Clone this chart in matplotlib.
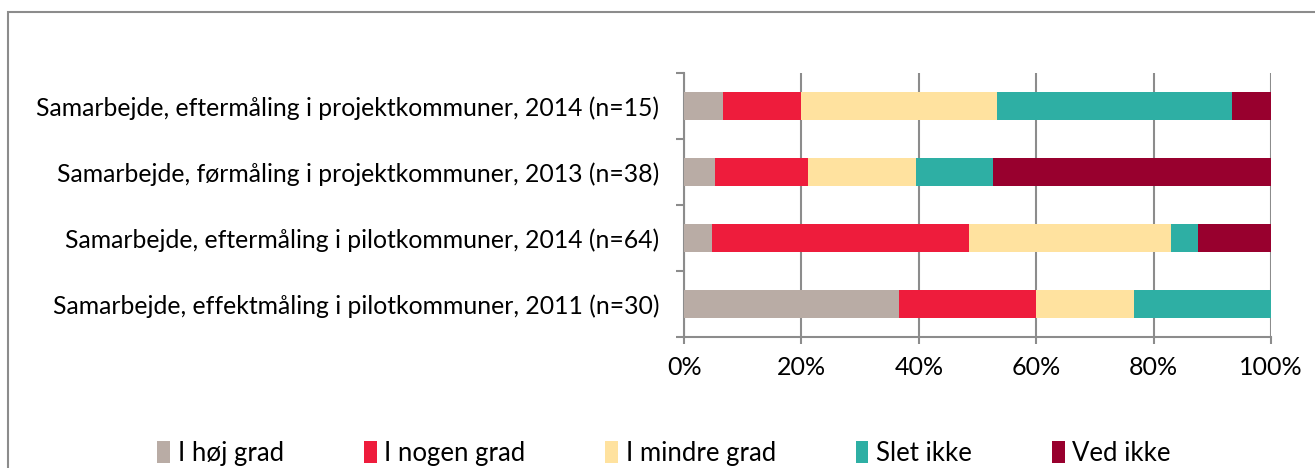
import numpy as np
import matplotlib
matplotlib.use("Agg")
import matplotlib.pyplot as plt
from matplotlib.patches import Rectangle

plt.rcParams["font.family"] = ["Lato", "DejaVu Sans"]

categories = [
    "Samarbejde, effektmåling i pilotkommuner, 2011 (n=30)",
    "Samarbejde, eftermåling i pilotkommuner, 2014 (n=64)",
    "Samarbejde, førmåling i projektkommuner, 2013 (n=38)",
    "Samarbejde, eftermåling i projektkommuner, 2014 (n=15)",
]
series_names = ["I høj grad", "I nogen grad", "I mindre grad", "Slet ikke", "Ved ikke"]

# percentages, bottom category first
hoej_grad = [36.7, 4.7, 5.3, 6.7]
nogen_grad = [23.3, 43.8, 15.8, 13.3]
mindre_grad = [16.7, 34.4, 18.4, 33.3]
slet_ikke = [23.3, 4.7, 13.2, 40.0]
ved_ikke = [0.0, 12.5, 47.4, 6.7]

colors = ["#B9ACA5", "#EE1C3C", "#FFE29F", "#2EAFA4", "#98002E"]

fig = plt.figure(figsize=(13.15, 4.68), dpi=100)
ax = fig.add_axes([0.5202, 0.2799, 0.4464, 0.5641])

# frame around the chart area
fig.patches.append(Rectangle((8 / 1315, -0.1), 1.2, 1 - 12 / 468 + 0.1,
                             transform=fig.transFigure, fill=False,
                             edgecolor="#8C8C8C", linewidth=1.5))

y = np.arange(len(categories))
left = np.zeros(len(categories))
for name, vals, c in zip(series_names,
                         [hoej_grad, nogen_grad, mindre_grad, slet_ikke, ved_ikke],
                         colors):
    vals = np.array(vals)
    ax.barh(y, vals, left=left, height=0.41, color=c, label=name, zorder=3)
    left += vals

ax.set_xlim(0, 100)
ax.set_ylim(-0.5, len(categories) - 0.5)
ax.set_xticks(np.arange(0, 101, 20))
ax.set_xticklabels([f"{v}%" for v in range(0, 101, 20)], fontsize=18)
ax.set_yticks(y)
ax.set_yticklabels(categories, fontsize=17.8)
ax.set_yticks(np.arange(-0.5, len(categories), 1), minor=True)
ax.tick_params(axis="y", which="major", length=0, pad=18)
ax.tick_params(axis="y", which="minor", length=6, color="#8C8C8C", width=1.5)
ax.tick_params(axis="x", length=5, color="#8C8C8C", width=1.5, pad=9)

ax.grid(axis="x", color="#8C8C8C", linewidth=1.5, zorder=0)
for s in ["top", "right"]:
    ax.spines[s].set_visible(False)
for s in ["left", "bottom"]:
    ax.spines[s].set_color("#8C8C8C")
    ax.spines[s].set_linewidth(1.5)

fig.legend(loc="lower center", bbox_to_anchor=(0.505, -0.045), ncol=5,
           frameon=False, fontsize=18.5, handlelength=0.5, handleheight=0.95,
           handletextpad=0.3, columnspacing=3.1)

fig.savefig("out.png", dpi=100)
